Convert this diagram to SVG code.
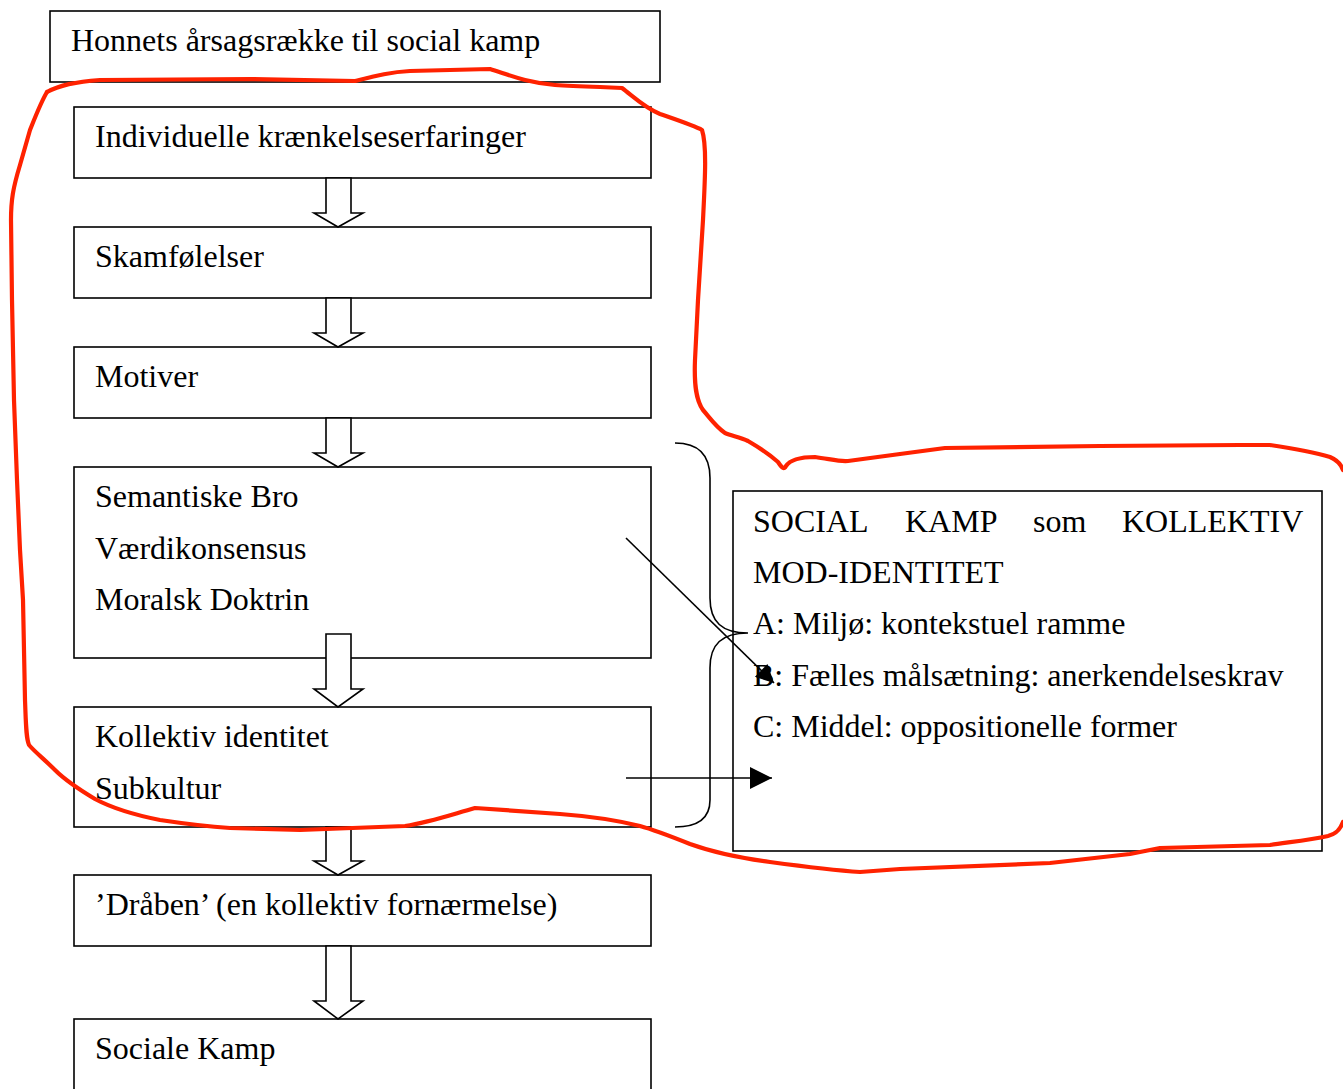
<svg xmlns="http://www.w3.org/2000/svg" width="1343" height="1089" viewBox="0 0 1343 1089">
<style>
.box{fill:#fff;stroke:#000;stroke-width:1.6}
.t{font-family:"Liberation Serif","Times New Roman",serif;font-size:32px;fill:#000}
.barrow{fill:#fff;stroke:#000;stroke-width:1.6}
.ln{fill:none;stroke:#000;stroke-width:1.6}
.red{fill:none;stroke:#ff2200;stroke-width:4.2;stroke-linejoin:round;stroke-linecap:round}
</style>
<defs>
<marker id="ah" viewBox="0 0 10 10" refX="10" refY="5" markerWidth="20" markerHeight="18" markerUnits="userSpaceOnUse" orient="auto">
<path d="M0,0 L10,5 L0,10 z" fill="#000"/>
</marker>
<marker id="ah2" viewBox="0 0 10 10" refX="10" refY="5" markerWidth="22" markerHeight="22" markerUnits="userSpaceOnUse" orient="auto">
<path d="M0,0 L10,5 L0,10 z" fill="#000"/>
</marker>
</defs>
<rect width="1343" height="1089" fill="#fff"/>
<g id="title"><rect class="box" x="50" y="11" width="610" height="71"/><text class="t" x="71" y="51">Honnets årsagsrække til social kamp</text></g>
<g id="n1"><rect class="box" x="74" y="107" width="577" height="71"/><text class="t" x="95" y="147">Individuelle krænkelseserfaringer</text></g>
<g id="n2"><rect class="box" x="74" y="227" width="577" height="71"/><text class="t" x="95" y="267">Skamfølelser</text></g>
<g id="n3"><rect class="box" x="74" y="347" width="577" height="71"/><text class="t" x="95" y="387">Motiver</text></g>
<g id="n4"><rect class="box" x="74" y="467" width="577" height="191"/><text class="t" x="95" y="507">Semantiske Bro</text><text class="t" x="95" y="559">Værdikonsensus</text><text class="t" x="95" y="610">Moralsk Doktrin</text></g>
<g id="n5"><rect class="box" x="74" y="707" width="577" height="120"/><text class="t" x="95" y="747">Kollektiv identitet</text><text class="t" x="95" y="799">Subkultur</text></g>
<g id="n6"><rect class="box" x="74" y="875" width="577" height="71"/><text class="t" x="95" y="915">’Dråben’ (en kollektiv fornærmelse)</text></g>
<g id="n7"><rect class="box" x="74" y="1019" width="577" height="80"/><text class="t" x="95" y="1059">Sociale Kamp</text></g>
<g id="social"><rect class="box" x="733" y="491" width="589" height="360"/>
<text class="t" y="532"><tspan x="753">SOCIAL</tspan><tspan x="905">KAMP</tspan><tspan x="1033">som</tspan><tspan x="1122">KOLLEKTIV</tspan></text>
<text class="t" x="753" y="583">MOD-IDENTITET</text>
<text class="t" x="753" y="634">A: Miljø: kontekstuel ramme</text>
<text class="t" x="753" y="686">B: Fælles målsætning: anerkendelseskrav</text>
<text class="t" x="753" y="737">C: Middel: oppositionelle former</text>
</g>
<g id="connectors">
<polygon class="barrow" points="326,178 351,178 351,213 363,213 338,227 314,213 326,213"/>
<polygon class="barrow" points="326,298 351,298 351,333 363,333 338,347 314,333 326,333"/>
<polygon class="barrow" points="326,418 351,418 351,453 363,453 338,467 314,453 326,453"/>
<polygon class="barrow" points="326,634 351,634 351,689 363,689 338,707 314,689 326,689"/>
<polygon class="barrow" points="326,827 351,827 351,861 363,861 338,875 314,861 326,861"/>
<polygon class="barrow" points="326,946 351,946 351,1001 363,1001 338,1019 314,1001 326,1001"/>
<path class="ln" d="M675,443 C698,443 710,455 710,478 L710,598 C710,622 722,633 748,633 C722,633 710,644 710,668 L710,800 C710,818 698,827 675,827"/>
<line class="ln" x1="626" y1="538" x2="774" y2="683" marker-end="url(#ah)"/>
<line class="ln" x1="626" y1="778" x2="772" y2="778" marker-end="url(#ah2)"/>
</g>
<path class="red" d="M47,92 C60,85 75,82 100,80 L250,79 L355,81 C375,76 390,72 410,71 L490,69 C500,72 510,76 525,80 C545,85 560,86 600,87 L622,88 C635,98 645,108 660,114 C680,121 695,126 702,130 C707,145 705,180 703,220 L698,300 L695,360 C694,385 696,400 703,410 C710,418 715,426 725,433 C732,436 740,437 748,441 C760,448 770,455 778,462 C782,468 784,470 786,466 C790,460 800,457 815,457 C830,459 840,462 848,461 L900,454 L945,448 L1100,446 L1240,445 L1270,445 C1290,448 1310,451 1330,457 C1337,460 1341,464 1343,470"/>
<path class="red" d="M1343,822 C1340,830 1336,834 1328,836 C1310,840 1290,842 1270,845 L1160,848 C1150,850 1140,852 1130,854 L1050,863 L900,869 L860,872 C830,870 800,866 770,862 C740,858 715,853 690,844 C670,836 655,830 640,826 C620,821 600,817 560,814 L475,808 C450,815 430,822 405,826 L300,830 L230,828 C200,826 180,823 160,820 C130,814 110,807 95,799 C80,790 65,780 55,770 C45,760 35,752 29,745 C26,738 26,725 25,700 L23,600 L20,550 L17,480 L14,400 L12,300 L11,220 C11,200 13,188 20,165 L30,130 C36,115 41,102 47,92"/>
</svg>
